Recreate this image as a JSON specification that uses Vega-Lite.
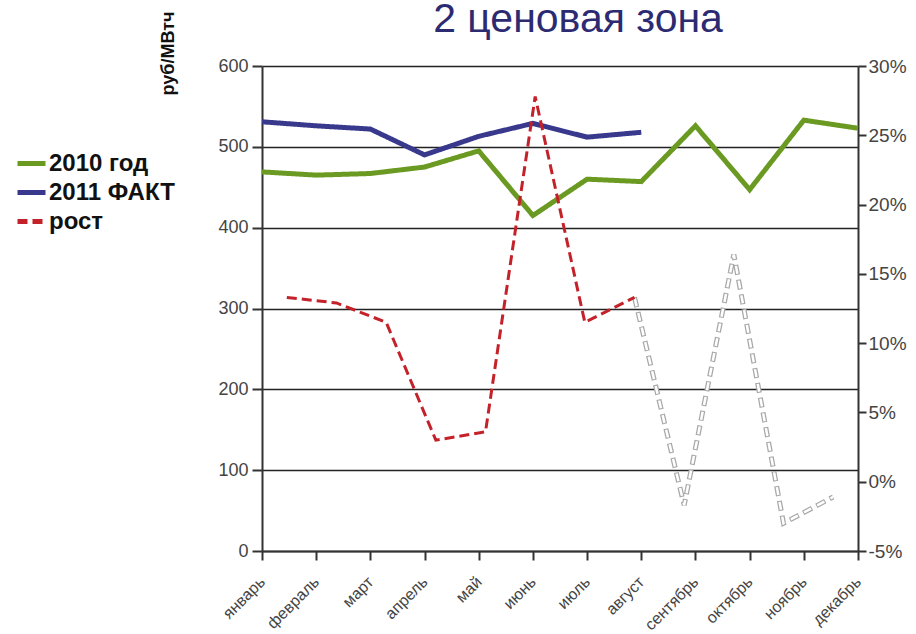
{
  "$schema": "https://vega.github.io/schema/vega-lite/v6.json",
  "width": 596,
  "height": 485,
  "autosize": {"type": "none"},
  "padding": {"left": 262, "top": 66, "right": 58, "bottom": 83},
  "background": "white",
  "title": {
    "text": "2 ценовая зона",
    "fontSize": 41,
    "font": "Liberation Sans",
    "fontWeight": "normal",
    "color": "#2c2b72",
    "anchor": "middle",
    "frame": "group",
    "offset": 0,
    "baseline": "alphabetic",
    "dx": 18,
    "dy": 62
  },
  "config": {"view": {"stroke": null}, "font": "Liberation Sans"},
  "datasets": {
    "price": [
      {"month": "январь", "series": "2010 год", "value": 469},
      {"month": "февраль", "series": "2010 год", "value": 465},
      {"month": "март", "series": "2010 год", "value": 467},
      {"month": "апрель", "series": "2010 год", "value": 475},
      {"month": "май", "series": "2010 год", "value": 495},
      {"month": "июнь", "series": "2010 год", "value": 415},
      {"month": "июль", "series": "2010 год", "value": 460},
      {"month": "август", "series": "2010 год", "value": 457},
      {"month": "сентябрь", "series": "2010 год", "value": 526},
      {"month": "октябрь", "series": "2010 год", "value": 447},
      {"month": "ноябрь", "series": "2010 год", "value": 533},
      {"month": "декабрь", "series": "2010 год", "value": 523},
      {"month": "январь", "series": "2011 ФАКТ", "value": 531},
      {"month": "февраль", "series": "2011 ФАКТ", "value": 526},
      {"month": "март", "series": "2011 ФАКТ", "value": 522},
      {"month": "апрель", "series": "2011 ФАКТ", "value": 490},
      {"month": "май", "series": "2011 ФАКТ", "value": 513},
      {"month": "июнь", "series": "2011 ФАКТ", "value": 529},
      {"month": "июль", "series": "2011 ФАКТ", "value": 512},
      {"month": "август", "series": "2011 ФАКТ", "value": 518}
    ],
    "growth": [
      {"month": "январь", "series": "рост", "pct": 13.3},
      {"month": "февраль", "series": "рост", "pct": 12.9},
      {"month": "март", "series": "рост", "pct": 11.5},
      {"month": "апрель", "series": "рост", "pct": 3.0},
      {"month": "май", "series": "рост", "pct": 3.6},
      {"month": "июнь", "series": "рост", "pct": 27.8},
      {"month": "июль", "series": "рост", "pct": 11.5},
      {"month": "август", "series": "рост", "pct": 13.3}
    ],
    "forecast": [
      {"month": "август", "pct": 13.3},
      {"month": "сентябрь", "pct": -1.7},
      {"month": "октябрь", "pct": 16.4},
      {"month": "ноябрь", "pct": -3.0},
      {"month": "декабрь", "pct": -1.1}
    ]
  },
  "layer": [
    {
      "data": {"name": "price"},
      "mark": {"type": "line", "strokeWidth": 5, "strokeCap": "butt", "strokeJoin": "miter"},
      "encoding": {
        "x": {
          "field": "month", "type": "ordinal", "sort": null,
          "scale": {"type": "point", "padding": 0, "domain": ["январь","февраль","март","апрель","май","июнь","июль","август","сентябрь","октябрь","ноябрь","декабрь"]},
          "axis": {
            "title": null, "labelAngle": -45, "labelAlign": "right", "labelBaseline": "middle",
            "labelFontSize": 16, "labelColor": "#444", "labelPadding": 19,
            "tickSize": 9, "tickColor": "#333", "tickWidth": 2,
            "domainColor": "#333", "domainWidth": 2, "grid": false
          }
        },
        "y": {
          "field": "value", "type": "quantitative",
          "scale": {"domain": [0, 600], "nice": false},
          "axis": {
            "title": "руб/МВтч", "titleFontSize": 18, "titleFontWeight": "bold", "titleColor": "#111",
            "titleX": -89, "titleY": 29, "titleAlign": "left", "titleBaseline": "alphabetic", "titleAngle": 270,
            "values": [0, 100, 200, 300, 400, 500, 600],
            "grid": true, "gridColor": "#222", "gridWidth": 1.6,
            "labelFontSize": 18, "labelColor": "#444", "labelPadding": 4,
            "tickSize": 10, "tickColor": "#333", "tickWidth": 2,
            "domainColor": "#333", "domainWidth": 2
          }
        },
        "color": {
          "field": "series", "type": "nominal",
          "scale": {"domain": ["2010 год", "2011 ФАКТ", "рост"], "range": ["#6a9a22", "#38388c", "#c4222a"]},
          "legend": {
            "orient": "none", "legendX": -247, "legendY": 81, "title": null,
            "symbolType": "stroke", "symbolSize": 784, "symbolStrokeWidth": 5,
            "labelFontSize": 24, "labelFontWeight": "bold", "labelColor": "#111", "labelFont": "Liberation Sans",
            "labelOffset": 1, "rowPadding": -1, "padding": 0
          }
        },
        "strokeDash": {
          "field": "series", "type": "nominal",
          "scale": {"domain": ["2010 год", "2011 ФАКТ", "рост"], "range": [[1, 0], [1, 0], [10, 5]]},
          "legend": {
            "orient": "none", "legendX": -247, "legendY": 81, "title": null,
            "symbolType": "stroke", "symbolSize": 784, "symbolStrokeWidth": 5,
            "labelFontSize": 24, "labelFontWeight": "bold", "labelColor": "#111", "labelFont": "Liberation Sans",
            "labelOffset": 1, "rowPadding": -1, "padding": 0
          }
        }
      }
    },
    {
      "encoding": {
        "x": {
          "field": "month", "type": "ordinal", "sort": null,
          "scale": {"type": "point", "padding": 0.5, "domain": ["январь","февраль","март","апрель","май","июнь","июль","август","сентябрь","октябрь","ноябрь","декабрь"]},
          "axis": null
        },
        "y": {
          "field": "pct", "type": "quantitative",
          "scale": {"domain": [-5, 30], "nice": false},
          "axis": {
            "orient": "right", "title": null,
            "values": [-5, 0, 5, 10, 15, 20, 25, 30],
            "labelExpr": "datum.value + '%'",
            "grid": false,
            "labelFontSize": 19, "labelColor": "#444", "labelPadding": 2,
            "tickSize": 8, "tickColor": "#333", "tickWidth": 2,
            "domainColor": "#333", "domainWidth": 2
          }
        }
      },
      "layer": [
        {
          "data": {"name": "forecast"},
          "mark": {"type": "line", "color": "#a8a8a8", "strokeWidth": 5, "strokeDash": [10, 5], "strokeCap": "butt"}
        },
        {
          "data": {"name": "forecast"},
          "mark": {"type": "line", "color": "#ffffff", "strokeWidth": 2.5, "strokeDash": [8, 7], "strokeDashOffset": -1, "strokeCap": "butt"}
        },
        {
          "data": {"name": "growth"},
          "mark": {"type": "line", "strokeWidth": 3, "strokeCap": "butt"},
          "encoding": {
            "color": {"field": "series", "type": "nominal"},
            "strokeDash": {"field": "series", "type": "nominal"}
          }
        }
      ]
    }
  ],
  "resolve": {"scale": {"x": "independent", "y": "independent"}}
}
